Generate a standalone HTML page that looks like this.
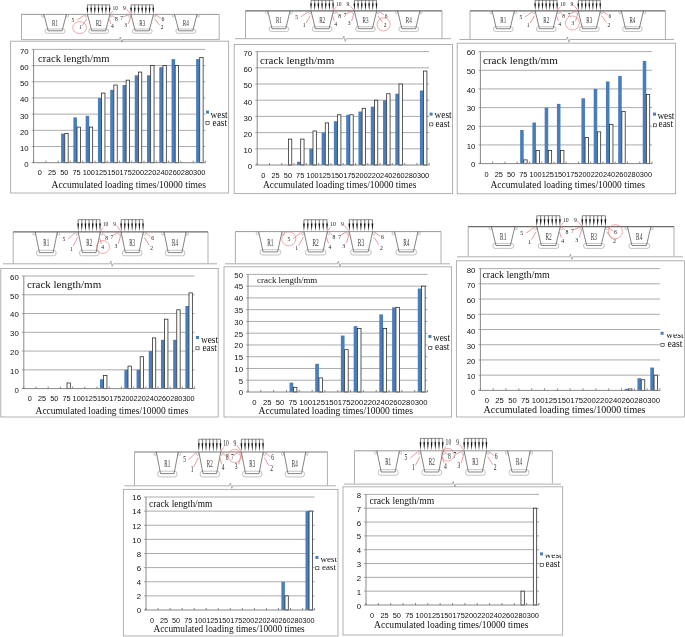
<!DOCTYPE html>
<html lang="en"><head><meta charset="utf-8"><title>Crack length vs accumulated loading times</title>
<style>html,body{margin:0;padding:0;background:#fff}svg{display:block}</style></head><body>
<svg width="685" height="637" viewBox="0 0 685 637">
<rect width="685" height="637" fill="#fff"/>
<defs>
<g id="dg" fill="none" stroke-linecap="butt">
<rect x="23.7" y="14.6" width="19.9" height="4.3" rx="2.1" stroke="#9a9a9a" stroke-width="0.6" vector-effect="non-scaling-stroke"/>
<circle cx="21.2" cy="1.5" r="1.2" stroke="#a0a0a0" stroke-width="0.6" vector-effect="non-scaling-stroke"/>
<circle cx="46.1" cy="1.5" r="1.2" stroke="#a0a0a0" stroke-width="0.6" vector-effect="non-scaling-stroke"/>
<path d="M22.4 0L26.7 16.4L40.6 16.4L44.9 0" stroke="#505050" stroke-width="0.7" fill="none" vector-effect="non-scaling-stroke"/>
<text x="33.65" y="11.3" font-family="'Liberation Serif',serif" font-size="8.4" fill="#333" stroke="none" text-anchor="middle" textLength="6" lengthAdjust="spacingAndGlyphs">R1</text>
<rect x="67.3" y="14.6" width="19.9" height="4.3" rx="2.1" stroke="#9a9a9a" stroke-width="0.6" vector-effect="non-scaling-stroke"/>
<circle cx="64.8" cy="1.5" r="1.2" stroke="#a0a0a0" stroke-width="0.6" vector-effect="non-scaling-stroke"/>
<circle cx="89.7" cy="1.5" r="1.2" stroke="#a0a0a0" stroke-width="0.6" vector-effect="non-scaling-stroke"/>
<path d="M66 0L70.3 16.4L84.2 16.4L88.5 0" stroke="#505050" stroke-width="0.7" fill="none" vector-effect="non-scaling-stroke"/>
<text x="77.25" y="11.3" font-family="'Liberation Serif',serif" font-size="8.4" fill="#333" stroke="none" text-anchor="middle" textLength="6" lengthAdjust="spacingAndGlyphs">R2</text>
<rect x="110.9" y="14.6" width="19.9" height="4.3" rx="2.1" stroke="#9a9a9a" stroke-width="0.6" vector-effect="non-scaling-stroke"/>
<circle cx="108.4" cy="1.5" r="1.2" stroke="#a0a0a0" stroke-width="0.6" vector-effect="non-scaling-stroke"/>
<circle cx="133.3" cy="1.5" r="1.2" stroke="#a0a0a0" stroke-width="0.6" vector-effect="non-scaling-stroke"/>
<path d="M109.6 0L113.9 16.4L127.8 16.4L132.1 0" stroke="#505050" stroke-width="0.7" fill="none" vector-effect="non-scaling-stroke"/>
<text x="120.85" y="11.3" font-family="'Liberation Serif',serif" font-size="8.4" fill="#333" stroke="none" text-anchor="middle" textLength="6" lengthAdjust="spacingAndGlyphs">R3</text>
<rect x="154.5" y="14.6" width="19.9" height="4.3" rx="2.1" stroke="#9a9a9a" stroke-width="0.6" vector-effect="non-scaling-stroke"/>
<circle cx="152" cy="1.5" r="1.2" stroke="#a0a0a0" stroke-width="0.6" vector-effect="non-scaling-stroke"/>
<circle cx="176.9" cy="1.5" r="1.2" stroke="#a0a0a0" stroke-width="0.6" vector-effect="non-scaling-stroke"/>
<path d="M153.2 0L157.5 16.4L171.4 16.4L175.7 0" stroke="#505050" stroke-width="0.7" fill="none" vector-effect="non-scaling-stroke"/>
<text x="164.45" y="11.3" font-family="'Liberation Serif',serif" font-size="8.4" fill="#333" stroke="none" text-anchor="middle" textLength="6" lengthAdjust="spacingAndGlyphs">R4</text>
<path d="M66 -9.6H88.2" stroke="#444" stroke-width="0.6" vector-effect="non-scaling-stroke"/>
<path d="M66 -9.6V-6" stroke="#222" stroke-width="0.6" vector-effect="non-scaling-stroke"/>
<path d="M65.15 -6.6H66.85L66 -0.2Z" fill="#111" stroke="none"/>
<path d="M69.7 -9.6V-6" stroke="#222" stroke-width="0.6" vector-effect="non-scaling-stroke"/>
<path d="M68.85 -6.6H70.55L69.7 -0.2Z" fill="#111" stroke="none"/>
<path d="M73.4 -9.6V-6" stroke="#222" stroke-width="0.6" vector-effect="non-scaling-stroke"/>
<path d="M72.55 -6.6H74.25L73.4 -0.2Z" fill="#111" stroke="none"/>
<path d="M77.1 -9.6V-6" stroke="#222" stroke-width="0.6" vector-effect="non-scaling-stroke"/>
<path d="M76.25 -6.6H77.95L77.1 -0.2Z" fill="#111" stroke="none"/>
<path d="M80.8 -9.6V-6" stroke="#222" stroke-width="0.6" vector-effect="non-scaling-stroke"/>
<path d="M79.95 -6.6H81.65L80.8 -0.2Z" fill="#111" stroke="none"/>
<path d="M84.5 -9.6V-6" stroke="#222" stroke-width="0.6" vector-effect="non-scaling-stroke"/>
<path d="M83.65 -6.6H85.35L84.5 -0.2Z" fill="#111" stroke="none"/>
<path d="M88.2 -9.6V-6" stroke="#222" stroke-width="0.6" vector-effect="non-scaling-stroke"/>
<path d="M87.35 -6.6H89.05L88.2 -0.2Z" fill="#111" stroke="none"/>
<path d="M109.7 -9.6H131.9" stroke="#444" stroke-width="0.6" vector-effect="non-scaling-stroke"/>
<path d="M109.7 -9.6V-6" stroke="#222" stroke-width="0.6" vector-effect="non-scaling-stroke"/>
<path d="M108.85 -6.6H110.55L109.7 -0.2Z" fill="#111" stroke="none"/>
<path d="M113.4 -9.6V-6" stroke="#222" stroke-width="0.6" vector-effect="non-scaling-stroke"/>
<path d="M112.55 -6.6H114.25L113.4 -0.2Z" fill="#111" stroke="none"/>
<path d="M117.1 -9.6V-6" stroke="#222" stroke-width="0.6" vector-effect="non-scaling-stroke"/>
<path d="M116.25 -6.6H117.95L117.1 -0.2Z" fill="#111" stroke="none"/>
<path d="M120.8 -9.6V-6" stroke="#222" stroke-width="0.6" vector-effect="non-scaling-stroke"/>
<path d="M119.95 -6.6H121.65L120.8 -0.2Z" fill="#111" stroke="none"/>
<path d="M124.5 -9.6V-6" stroke="#222" stroke-width="0.6" vector-effect="non-scaling-stroke"/>
<path d="M123.65 -6.6H125.35L124.5 -0.2Z" fill="#111" stroke="none"/>
<path d="M128.2 -9.6V-6" stroke="#222" stroke-width="0.6" vector-effect="non-scaling-stroke"/>
<path d="M127.35 -6.6H129.05L128.2 -0.2Z" fill="#111" stroke="none"/>
<path d="M131.9 -9.6V-6" stroke="#222" stroke-width="0.6" vector-effect="non-scaling-stroke"/>
<path d="M131.05 -6.6H132.75L131.9 -0.2Z" fill="#111" stroke="none"/>
<path d="M55.6 5.7L63.2 0.7" stroke="#e0585a" stroke-width="0.6" vector-effect="non-scaling-stroke"/>
<path d="M60.9 11.3L65.4 4.4" stroke="#e0585a" stroke-width="0.6" vector-effect="non-scaling-stroke"/>
<path d="M91.4 -3.4L88 0" stroke="#e0585a" stroke-width="0.6" vector-effect="non-scaling-stroke"/>
<path d="M105 -5L109.3 -0.6" stroke="#e0585a" stroke-width="0.6" vector-effect="non-scaling-stroke"/>
<path d="M91.4 1.3L93.4 3.2" stroke="#e0585a" stroke-width="0.6" vector-effect="non-scaling-stroke"/>
<path d="M101.8 2.6L106.8 0.4" stroke="#e0585a" stroke-width="0.6" vector-effect="non-scaling-stroke"/>
<path d="M87.6 4.4L89.6 9.5" stroke="#e0585a" stroke-width="0.6" vector-effect="non-scaling-stroke"/>
<path d="M106.8 9.5L109.3 2.6" stroke="#e0585a" stroke-width="0.6" vector-effect="non-scaling-stroke"/>
<path d="M134.5 0.6L139.5 3.8" stroke="#e0585a" stroke-width="0.6" vector-effect="non-scaling-stroke"/>
<path d="M133.2 4.4L138.2 10.7" stroke="#e0585a" stroke-width="0.6" vector-effect="non-scaling-stroke"/>
<text x="51.5" y="7.5" font-family="'Liberation Serif',serif" font-size="5.6" fill="#222" stroke="none" text-anchor="middle">5</text>
<text x="59" y="14.9" font-family="'Liberation Serif',serif" font-size="5.6" fill="#222" stroke="none" text-anchor="middle">1</text>
<text x="93.9" y="-4.3" font-family="'Liberation Serif',serif" font-size="5.6" fill="#222" stroke="none" text-anchor="middle">10</text>
<text x="103.1" y="-4.3" font-family="'Liberation Serif',serif" font-size="5.6" fill="#222" stroke="none" text-anchor="middle">9</text>
<text x="94.9" y="6.3" font-family="'Liberation Serif',serif" font-size="5.6" fill="#222" stroke="none" text-anchor="middle">8</text>
<text x="100.3" y="5.8" font-family="'Liberation Serif',serif" font-size="5.6" fill="#222" stroke="none" text-anchor="middle">7</text>
<text x="90.9" y="13.9" font-family="'Liberation Serif',serif" font-size="5.6" fill="#222" stroke="none" text-anchor="middle">4</text>
<text x="104.3" y="13" font-family="'Liberation Serif',serif" font-size="5.6" fill="#222" stroke="none" text-anchor="middle">3</text>
<text x="141.6" y="6.3" font-family="'Liberation Serif',serif" font-size="5.6" fill="#222" stroke="none" text-anchor="middle">6</text>
<text x="140.7" y="14.5" font-family="'Liberation Serif',serif" font-size="5.6" fill="#222" stroke="none" text-anchor="middle">2</text>
</g>
</defs>
<g id="p1">
<rect x="10.6" y="41.2" width="218" height="151.8" fill="#fff" stroke="#a8a8a8" stroke-width="0.9"/>
<path d="M21.5 39.6V14.4M219.2 14.4V39.6" fill="none" stroke="#8c8c8c" stroke-width="0.7"/>
<path d="M21.5 14.4H219.2" fill="none" stroke="#858585" stroke-width="0.85"/>
<path d="M21.5 39.6H119.4L120.4 37L121.8 42.2L122.8 39.6H219.2" fill="none" stroke="#8c8c8c" stroke-width="0.7"/>
<use href="#dg" transform="translate(21.5 14.4) scale(0.999 1.0)"/>
<ellipse cx="79.6" cy="27.6" rx="6.9" ry="6" fill="none" stroke="#e57373" stroke-width="0.6"/>
<path d="M31.6 146.51H205.4M31.6 130.33H205.4M31.6 114.14H205.4M31.6 97.96H205.4M31.6 81.77H205.4M31.6 65.59H205.4M31.6 49.4H205.4" fill="none" stroke="#969696" stroke-width="0.8"/>
<rect x="61.12" y="133.57" width="3.56" height="29.13" fill="#4a7ebb"/>
<rect x="64.78" y="133.57" width="3.36" height="29.13" fill="#fff" stroke="#222" stroke-width="0.75"/>
<rect x="73.39" y="117.38" width="3.56" height="45.32" fill="#4a7ebb"/>
<rect x="77.05" y="127.09" width="3.36" height="35.61" fill="#fff" stroke="#222" stroke-width="0.75"/>
<rect x="85.66" y="115.76" width="3.56" height="46.94" fill="#4a7ebb"/>
<rect x="89.32" y="127.09" width="3.36" height="35.61" fill="#fff" stroke="#222" stroke-width="0.75"/>
<rect x="97.93" y="97.96" width="3.56" height="64.74" fill="#4a7ebb"/>
<rect x="101.59" y="93.1" width="3.36" height="69.6" fill="#fff" stroke="#222" stroke-width="0.75"/>
<rect x="110.21" y="89.86" width="3.56" height="72.84" fill="#4a7ebb"/>
<rect x="113.86" y="85.01" width="3.36" height="77.69" fill="#fff" stroke="#222" stroke-width="0.75"/>
<rect x="122.48" y="85.01" width="3.56" height="77.69" fill="#4a7ebb"/>
<rect x="126.14" y="80.15" width="3.36" height="82.55" fill="#fff" stroke="#222" stroke-width="0.75"/>
<rect x="134.75" y="75.3" width="3.56" height="87.4" fill="#4a7ebb"/>
<rect x="138.41" y="72.06" width="3.36" height="90.64" fill="#fff" stroke="#222" stroke-width="0.75"/>
<rect x="147.02" y="75.3" width="3.56" height="87.4" fill="#4a7ebb"/>
<rect x="150.68" y="65.59" width="3.36" height="97.11" fill="#fff" stroke="#222" stroke-width="0.75"/>
<rect x="159.29" y="67.2" width="3.56" height="95.5" fill="#4a7ebb"/>
<rect x="162.95" y="65.59" width="3.36" height="97.11" fill="#fff" stroke="#222" stroke-width="0.75"/>
<rect x="171.56" y="59.11" width="3.56" height="103.59" fill="#4a7ebb"/>
<rect x="175.22" y="65.59" width="3.36" height="97.11" fill="#fff" stroke="#222" stroke-width="0.75"/>
<rect x="196.11" y="59.11" width="3.56" height="103.59" fill="#4a7ebb"/>
<rect x="199.76" y="57.49" width="3.36" height="105.21" fill="#fff" stroke="#222" stroke-width="0.75"/>
<path d="M33.6 49.4V162.7M31.6 162.7H205.4M33.6 162.7v-2M45.87 162.7v-2M58.14 162.7v-2M70.41 162.7v-2M82.69 162.7v-2M94.96 162.7v-2M107.23 162.7v-2M119.5 162.7v-2M131.77 162.7v-2M144.04 162.7v-2M156.31 162.7v-2M168.59 162.7v-2M180.86 162.7v-2M193.13 162.7v-2M205.4 162.7v-2" fill="none" stroke="#7a7a7a" stroke-width="0.9"/>
<g font-family="'Liberation Sans',sans-serif" font-size="7.8" fill="#111">
<text x="28.6" y="167.2" text-anchor="end">0</text>
<text x="28.6" y="151.01" text-anchor="end">10</text>
<text x="28.6" y="134.83" text-anchor="end">20</text>
<text x="28.6" y="118.64" text-anchor="end">30</text>
<text x="28.6" y="102.46" text-anchor="end">40</text>
<text x="28.6" y="86.27" text-anchor="end">50</text>
<text x="28.6" y="70.09" text-anchor="end">60</text>
<text x="28.6" y="53.9" text-anchor="end">70</text>
<text x="39.74" y="174.9" font-size="7.36" text-anchor="middle">0</text>
<text x="52.01" y="174.9" font-size="7.36" text-anchor="middle">25</text>
<text x="64.28" y="174.9" font-size="7.36" text-anchor="middle">50</text>
<text x="76.55" y="174.9" font-size="7.36" text-anchor="middle">75</text>
<text x="88.82" y="174.9" font-size="7.36" text-anchor="middle">100</text>
<text x="101.09" y="174.9" font-size="7.36" text-anchor="middle">125</text>
<text x="113.36" y="174.9" font-size="7.36" text-anchor="middle">150</text>
<text x="125.64" y="174.9" font-size="7.36" text-anchor="middle">175</text>
<text x="137.91" y="174.9" font-size="7.36" text-anchor="middle">200</text>
<text x="150.18" y="174.9" font-size="7.36" text-anchor="middle">220</text>
<text x="162.45" y="174.9" font-size="7.36" text-anchor="middle">240</text>
<text x="174.72" y="174.9" font-size="7.36" text-anchor="middle">260</text>
<text x="186.99" y="174.9" font-size="7.36" text-anchor="middle">280</text>
<text x="199.26" y="174.9" font-size="7.36" text-anchor="middle">300</text>
</g>
<text x="38" y="62.4" font-family="'Liberation Serif',serif" font-size="10.6" fill="#111">crack length/mm</text>
<text x="51.6" y="187.6" font-family="'Liberation Serif',serif" font-size="9.54" fill="#111">Accumulated loading times/10000 times</text>
<rect x="206" y="110.6" width="3" height="3" fill="#4a7ebb"/>
<text x="210.6" y="117.6" font-family="'Liberation Serif',serif" font-size="9.3" fill="#111">west</text>
<rect x="205.9" y="121.3" width="3.2" height="3" fill="#fff" stroke="#1a1a1a" stroke-width="0.6"/>
<text x="212.6" y="126.2" font-family="'Liberation Serif',serif" font-size="9.3" fill="#111">east</text>
</g>
<g id="p2">
<rect x="234.2" y="44.5" width="218.3" height="149.1" fill="#fff" stroke="#a8a8a8" stroke-width="0.9"/>
<path d="M245.5 38.5V10.8M442 10.8V38.5" fill="none" stroke="#8c8c8c" stroke-width="0.7"/>
<path d="M245.5 10.8H442" fill="none" stroke="#6a6a6a" stroke-width="1.25"/>
<path d="M235 38.7H342.8L343.8 36.1L345.2 41.3L346.2 38.7H451" fill="none" stroke="#8c8c8c" stroke-width="0.7"/>
<use href="#dg" transform="translate(245.5 10.8) scale(0.9929 1.0915)"/>
<ellipse cx="383.6" cy="24.4" rx="6.6" ry="6.6" fill="none" stroke="#e57373" stroke-width="0.6"/>
<path d="M255.2 148.8H429.2M255.2 132.6H429.2M255.2 116.4H429.2M255.2 100.2H429.2M255.2 84H429.2M255.2 67.8H429.2M255.2 51.6H429.2" fill="none" stroke="#969696" stroke-width="0.8"/>
<rect x="288.41" y="139.08" width="3.36" height="25.92" fill="#fff" stroke="#222" stroke-width="0.75"/>
<rect x="297.04" y="161.76" width="3.56" height="3.24" fill="#4a7ebb"/>
<rect x="300.7" y="139.08" width="3.36" height="25.92" fill="#fff" stroke="#222" stroke-width="0.75"/>
<rect x="309.32" y="148.8" width="3.56" height="16.2" fill="#4a7ebb"/>
<rect x="312.99" y="130.98" width="3.36" height="34.02" fill="#fff" stroke="#222" stroke-width="0.75"/>
<rect x="321.61" y="132.6" width="3.56" height="32.4" fill="#4a7ebb"/>
<rect x="325.27" y="122.88" width="3.36" height="42.12" fill="#fff" stroke="#222" stroke-width="0.75"/>
<rect x="333.89" y="121.26" width="3.56" height="43.74" fill="#4a7ebb"/>
<rect x="337.56" y="114.78" width="3.36" height="50.22" fill="#fff" stroke="#222" stroke-width="0.75"/>
<rect x="346.18" y="114.78" width="3.56" height="50.22" fill="#4a7ebb"/>
<rect x="349.84" y="114.78" width="3.36" height="50.22" fill="#fff" stroke="#222" stroke-width="0.75"/>
<rect x="358.47" y="111.54" width="3.56" height="53.46" fill="#4a7ebb"/>
<rect x="362.13" y="108.3" width="3.36" height="56.7" fill="#fff" stroke="#222" stroke-width="0.75"/>
<rect x="370.75" y="106.68" width="3.56" height="58.32" fill="#4a7ebb"/>
<rect x="374.41" y="100.2" width="3.36" height="64.8" fill="#fff" stroke="#222" stroke-width="0.75"/>
<rect x="383.04" y="100.2" width="3.56" height="64.8" fill="#4a7ebb"/>
<rect x="386.7" y="93.72" width="3.36" height="71.28" fill="#fff" stroke="#222" stroke-width="0.75"/>
<rect x="395.32" y="93.72" width="3.56" height="71.28" fill="#4a7ebb"/>
<rect x="398.99" y="84" width="3.36" height="81" fill="#fff" stroke="#222" stroke-width="0.75"/>
<rect x="419.89" y="90.48" width="3.56" height="74.52" fill="#4a7ebb"/>
<rect x="423.56" y="71.04" width="3.36" height="93.96" fill="#fff" stroke="#222" stroke-width="0.75"/>
<path d="M257.2 51.6V165M255.2 165H429.2M257.2 165v-2M269.49 165v-2M281.77 165v-2M294.06 165v-2M306.34 165v-2M318.63 165v-2M330.91 165v-2M343.2 165v-2M355.49 165v-2M367.77 165v-2M380.06 165v-2M392.34 165v-2M404.63 165v-2M416.91 165v-2M429.2 165v-2" fill="none" stroke="#7a7a7a" stroke-width="0.9"/>
<g font-family="'Liberation Sans',sans-serif" font-size="7.8" fill="#111">
<text x="252.2" y="169.3" text-anchor="end">0</text>
<text x="252.2" y="153.1" text-anchor="end">10</text>
<text x="252.2" y="136.9" text-anchor="end">20</text>
<text x="252.2" y="120.7" text-anchor="end">30</text>
<text x="252.2" y="104.5" text-anchor="end">40</text>
<text x="252.2" y="88.3" text-anchor="end">50</text>
<text x="252.2" y="72.1" text-anchor="end">60</text>
<text x="252.2" y="55.9" text-anchor="end">70</text>
<text x="263.34" y="178.1" font-size="7.37" text-anchor="middle">0</text>
<text x="275.63" y="178.1" font-size="7.37" text-anchor="middle">25</text>
<text x="287.91" y="178.1" font-size="7.37" text-anchor="middle">50</text>
<text x="300.2" y="178.1" font-size="7.37" text-anchor="middle">75</text>
<text x="312.49" y="178.1" font-size="7.37" text-anchor="middle">100</text>
<text x="324.77" y="178.1" font-size="7.37" text-anchor="middle">125</text>
<text x="337.06" y="178.1" font-size="7.37" text-anchor="middle">150</text>
<text x="349.34" y="178.1" font-size="7.37" text-anchor="middle">175</text>
<text x="361.63" y="178.1" font-size="7.37" text-anchor="middle">200</text>
<text x="373.91" y="178.1" font-size="7.37" text-anchor="middle">220</text>
<text x="386.2" y="178.1" font-size="7.37" text-anchor="middle">240</text>
<text x="398.49" y="178.1" font-size="7.37" text-anchor="middle">260</text>
<text x="410.77" y="178.1" font-size="7.37" text-anchor="middle">280</text>
<text x="423.06" y="178.1" font-size="7.37" text-anchor="middle">300</text>
</g>
<text x="260" y="63.6" font-family="'Liberation Serif',serif" font-size="11.0" fill="#111">crack length/mm</text>
<text x="263" y="188" font-family="'Liberation Serif',serif" font-size="9.47" fill="#111">Accumulated loading times/10000 times</text>
<rect x="429.6" y="112.6" width="3" height="3" fill="#4a7ebb"/>
<text x="434.6" y="118.4" font-family="'Liberation Serif',serif" font-size="9.3" fill="#111">west</text>
<rect x="429.7" y="122.9" width="3.2" height="3" fill="#fff" stroke="#1a1a1a" stroke-width="0.6"/>
<text x="435.4" y="126.6" font-family="'Liberation Serif',serif" font-size="9.3" fill="#111">east</text>
</g>
<g id="p3">
<rect x="457.2" y="43.2" width="218.4" height="150.6" fill="#fff" stroke="#a8a8a8" stroke-width="0.9"/>
<path d="M470 39.2V10.8M665.4 10.8V39.2" fill="none" stroke="#8c8c8c" stroke-width="0.7"/>
<path d="M470 10.8H665.4" fill="none" stroke="#6a6a6a" stroke-width="1.25"/>
<path d="M459.4 39.5H566.4L567.4 36.9L568.8 42.1L569.8 39.5H674" fill="none" stroke="#8c8c8c" stroke-width="0.7"/>
<use href="#dg" transform="translate(470 10.8) scale(0.9874 1.0915)"/>
<ellipse cx="572.4" cy="23" rx="7" ry="7" fill="none" stroke="#e57373" stroke-width="0.6"/>
<path d="M478.4 144.93H652M478.4 126.27H652M478.4 107.6H652M478.4 88.93H652M478.4 70.27H652M478.4 51.6H652" fill="none" stroke="#969696" stroke-width="0.8"/>
<rect x="520.15" y="130" width="3.55" height="33.6" fill="#4a7ebb"/>
<rect x="523.8" y="159.87" width="3.35" height="3.73" fill="#fff" stroke="#222" stroke-width="0.75"/>
<rect x="532.4" y="122.53" width="3.55" height="41.07" fill="#4a7ebb"/>
<rect x="536.06" y="150.53" width="3.35" height="13.07" fill="#fff" stroke="#222" stroke-width="0.75"/>
<rect x="544.66" y="107.6" width="3.55" height="56" fill="#4a7ebb"/>
<rect x="548.31" y="150.53" width="3.35" height="13.07" fill="#fff" stroke="#222" stroke-width="0.75"/>
<rect x="556.92" y="103.87" width="3.55" height="59.73" fill="#4a7ebb"/>
<rect x="560.57" y="150.53" width="3.35" height="13.07" fill="#fff" stroke="#222" stroke-width="0.75"/>
<rect x="581.43" y="98.27" width="3.55" height="65.33" fill="#4a7ebb"/>
<rect x="585.09" y="137.47" width="3.35" height="26.13" fill="#fff" stroke="#222" stroke-width="0.75"/>
<rect x="593.69" y="88.93" width="3.55" height="74.67" fill="#4a7ebb"/>
<rect x="597.34" y="131.87" width="3.35" height="31.73" fill="#fff" stroke="#222" stroke-width="0.75"/>
<rect x="605.95" y="81.47" width="3.55" height="82.13" fill="#4a7ebb"/>
<rect x="609.6" y="124.4" width="3.35" height="39.2" fill="#fff" stroke="#222" stroke-width="0.75"/>
<rect x="618.2" y="75.87" width="3.55" height="87.73" fill="#4a7ebb"/>
<rect x="621.86" y="111.33" width="3.35" height="52.27" fill="#fff" stroke="#222" stroke-width="0.75"/>
<rect x="642.72" y="60.93" width="3.55" height="102.67" fill="#4a7ebb"/>
<rect x="646.37" y="94.53" width="3.35" height="69.07" fill="#fff" stroke="#222" stroke-width="0.75"/>
<path d="M480.4 51.6V163.6M478.4 163.6H652M480.4 163.6v-2M492.66 163.6v-2M504.91 163.6v-2M517.17 163.6v-2M529.43 163.6v-2M541.69 163.6v-2M553.94 163.6v-2M566.2 163.6v-2M578.46 163.6v-2M590.71 163.6v-2M602.97 163.6v-2M615.23 163.6v-2M627.49 163.6v-2M639.74 163.6v-2M652 163.6v-2" fill="none" stroke="#7a7a7a" stroke-width="0.9"/>
<g font-family="'Liberation Sans',sans-serif" font-size="7.8" fill="#111">
<text x="475.4" y="167.3" text-anchor="end">0</text>
<text x="475.4" y="148.63" text-anchor="end">10</text>
<text x="475.4" y="129.97" text-anchor="end">20</text>
<text x="475.4" y="111.3" text-anchor="end">30</text>
<text x="475.4" y="92.63" text-anchor="end">40</text>
<text x="475.4" y="73.97" text-anchor="end">50</text>
<text x="475.4" y="55.3" text-anchor="end">60</text>
<text x="486.53" y="176.9" font-size="7.35" text-anchor="middle">0</text>
<text x="498.79" y="176.9" font-size="7.35" text-anchor="middle">25</text>
<text x="511.04" y="176.9" font-size="7.35" text-anchor="middle">50</text>
<text x="523.3" y="176.9" font-size="7.35" text-anchor="middle">75</text>
<text x="535.56" y="176.9" font-size="7.35" text-anchor="middle">100</text>
<text x="547.81" y="176.9" font-size="7.35" text-anchor="middle">125</text>
<text x="560.07" y="176.9" font-size="7.35" text-anchor="middle">150</text>
<text x="572.33" y="176.9" font-size="7.35" text-anchor="middle">175</text>
<text x="584.59" y="176.9" font-size="7.35" text-anchor="middle">200</text>
<text x="596.84" y="176.9" font-size="7.35" text-anchor="middle">220</text>
<text x="609.1" y="176.9" font-size="7.35" text-anchor="middle">240</text>
<text x="621.36" y="176.9" font-size="7.35" text-anchor="middle">260</text>
<text x="633.61" y="176.9" font-size="7.35" text-anchor="middle">280</text>
<text x="645.87" y="176.9" font-size="7.35" text-anchor="middle">300</text>
</g>
<text x="483" y="63.6" font-family="'Liberation Serif',serif" font-size="11.1" fill="#111">crack length/mm</text>
<text x="490.4" y="188" font-family="'Liberation Serif',serif" font-size="9.55" fill="#111">Accumulated loading times/10000 times</text>
<rect x="653" y="112.6" width="3" height="3" fill="#4a7ebb"/>
<text x="657.4" y="119.2" font-family="'Liberation Serif',serif" font-size="9.3" fill="#111">west</text>
<rect x="653.3" y="123.8" width="3.2" height="3" fill="#fff" stroke="#1a1a1a" stroke-width="0.6"/>
<text x="658.6" y="127" font-family="'Liberation Serif',serif" font-size="9.3" fill="#111">east</text>
</g>
<g id="p4">
<rect x="0.8" y="268.5" width="217.4" height="148.5" fill="#fff" stroke="#a8a8a8" stroke-width="0.9"/>
<path d="M13.2 263.4V231.8M208 231.8V263.4" fill="none" stroke="#8c8c8c" stroke-width="0.7"/>
<path d="M13.2 231.8H208" fill="none" stroke="#6a6a6a" stroke-width="1.25"/>
<path d="M3 263.8H109.8L110.8 261.2L112.2 266.4L113.2 263.8H217" fill="none" stroke="#8c8c8c" stroke-width="0.7"/>
<use href="#dg" transform="translate(13.2 231.8) scale(0.9843 1.2683)"/>
<ellipse cx="103" cy="247" rx="6.5" ry="6.5" fill="none" stroke="#e57373" stroke-width="0.6"/>
<path d="M21.8 369.83H194.6M21.8 351.07H194.6M21.8 332.3H194.6M21.8 313.53H194.6M21.8 294.77H194.6M21.8 276H194.6" fill="none" stroke="#969696" stroke-width="0.8"/>
<rect x="67" y="382.97" width="3.34" height="5.63" fill="#fff" stroke="#222" stroke-width="0.75"/>
<rect x="99.96" y="379.22" width="3.54" height="9.38" fill="#4a7ebb"/>
<rect x="103.6" y="375.46" width="3.34" height="13.14" fill="#fff" stroke="#222" stroke-width="0.75"/>
<rect x="124.36" y="369.83" width="3.54" height="18.77" fill="#4a7ebb"/>
<rect x="128" y="366.08" width="3.34" height="22.52" fill="#fff" stroke="#222" stroke-width="0.75"/>
<rect x="136.56" y="369.83" width="3.54" height="18.77" fill="#4a7ebb"/>
<rect x="140.2" y="356.7" width="3.34" height="31.9" fill="#fff" stroke="#222" stroke-width="0.75"/>
<rect x="148.76" y="351.07" width="3.54" height="37.53" fill="#4a7ebb"/>
<rect x="152.4" y="337.93" width="3.34" height="50.67" fill="#fff" stroke="#222" stroke-width="0.75"/>
<rect x="160.96" y="339.81" width="3.54" height="48.79" fill="#4a7ebb"/>
<rect x="164.6" y="319.16" width="3.34" height="69.44" fill="#fff" stroke="#222" stroke-width="0.75"/>
<rect x="173.16" y="339.81" width="3.54" height="48.79" fill="#4a7ebb"/>
<rect x="176.8" y="309.78" width="3.34" height="78.82" fill="#fff" stroke="#222" stroke-width="0.75"/>
<rect x="185.36" y="306.03" width="3.54" height="82.57" fill="#4a7ebb"/>
<rect x="189" y="292.89" width="3.34" height="95.71" fill="#fff" stroke="#222" stroke-width="0.75"/>
<path d="M23.8 276V388.6M21.8 388.6H194.6M23.8 388.6v-2M36 388.6v-2M48.2 388.6v-2M60.4 388.6v-2M72.6 388.6v-2M84.8 388.6v-2M97 388.6v-2M109.2 388.6v-2M121.4 388.6v-2M133.6 388.6v-2M145.8 388.6v-2M158 388.6v-2M170.2 388.6v-2M182.4 388.6v-2M194.6 388.6v-2" fill="none" stroke="#7a7a7a" stroke-width="0.9"/>
<g font-family="'Liberation Sans',sans-serif" font-size="7.8" fill="#111">
<text x="18.8" y="392.5" text-anchor="end">0</text>
<text x="18.8" y="373.73" text-anchor="end">10</text>
<text x="18.8" y="354.97" text-anchor="end">20</text>
<text x="18.8" y="336.2" text-anchor="end">30</text>
<text x="18.8" y="317.43" text-anchor="end">40</text>
<text x="18.8" y="298.67" text-anchor="end">50</text>
<text x="18.8" y="279.9" text-anchor="end">60</text>
<text x="29.9" y="400.9" font-size="7.31" text-anchor="middle">0</text>
<text x="42.1" y="400.9" font-size="7.31" text-anchor="middle">25</text>
<text x="54.3" y="400.9" font-size="7.31" text-anchor="middle">50</text>
<text x="66.5" y="400.9" font-size="7.31" text-anchor="middle">75</text>
<text x="78.7" y="400.9" font-size="7.31" text-anchor="middle">100</text>
<text x="90.9" y="400.9" font-size="7.31" text-anchor="middle">125</text>
<text x="103.1" y="400.9" font-size="7.31" text-anchor="middle">150</text>
<text x="115.3" y="400.9" font-size="7.31" text-anchor="middle">175</text>
<text x="127.5" y="400.9" font-size="7.31" text-anchor="middle">200</text>
<text x="139.7" y="400.9" font-size="7.31" text-anchor="middle">220</text>
<text x="151.9" y="400.9" font-size="7.31" text-anchor="middle">240</text>
<text x="164.1" y="400.9" font-size="7.31" text-anchor="middle">260</text>
<text x="176.3" y="400.9" font-size="7.31" text-anchor="middle">280</text>
<text x="188.5" y="400.9" font-size="7.31" text-anchor="middle">300</text>
</g>
<text x="27" y="288" font-family="'Liberation Serif',serif" font-size="11.0" fill="#111">crack length/mm</text>
<text x="35.6" y="414" font-family="'Liberation Serif',serif" font-size="9.45" fill="#111">Accumulated loading times/10000 times</text>
<rect x="196" y="336" width="3" height="3" fill="#4a7ebb"/>
<text x="201" y="343" font-family="'Liberation Serif',serif" font-size="9.3" fill="#111">west</text>
<rect x="195.9" y="346.8" width="3.2" height="3" fill="#fff" stroke="#1a1a1a" stroke-width="0.6"/>
<text x="202.4" y="350.6" font-family="'Liberation Serif',serif" font-size="9.3" fill="#111">east</text>
</g>
<g id="p5">
<rect x="224" y="266.8" width="227.6" height="150.2" fill="#fff" stroke="#a8a8a8" stroke-width="0.9"/>
<path d="M235.4 263.2V231.6M441 231.6V263.2" fill="none" stroke="#8c8c8c" stroke-width="0.7"/>
<path d="M235.4 231.6H441" fill="none" stroke="#858585" stroke-width="0.85"/>
<path d="M225 263.8H337.4L338.4 261.2L339.8 266.4L340.8 263.8H450" fill="none" stroke="#8c8c8c" stroke-width="0.7"/>
<use href="#dg" transform="translate(235.4 231.6) scale(1.0389 1.2378)"/>
<ellipse cx="288.8" cy="238.8" rx="7" ry="7" fill="none" stroke="#e57373" stroke-width="0.6"/>
<path d="M246 380.24H427.5M246 368.48H427.5M246 356.72H427.5M246 344.96H427.5M246 333.2H427.5M246 321.44H427.5M246 309.68H427.5M246 297.92H427.5M246 286.16H427.5M246 274.4H427.5" fill="none" stroke="#969696" stroke-width="0.8"/>
<rect x="289.56" y="382.59" width="3.72" height="9.41" fill="#4a7ebb"/>
<rect x="293.38" y="387.3" width="3.52" height="4.7" fill="#fff" stroke="#222" stroke-width="0.75"/>
<rect x="315.2" y="363.78" width="3.72" height="28.22" fill="#4a7ebb"/>
<rect x="319.02" y="377.89" width="3.52" height="14.11" fill="#fff" stroke="#222" stroke-width="0.75"/>
<rect x="340.84" y="335.55" width="3.72" height="56.45" fill="#4a7ebb"/>
<rect x="344.66" y="349.66" width="3.52" height="42.34" fill="#fff" stroke="#222" stroke-width="0.75"/>
<rect x="353.66" y="326.14" width="3.72" height="65.86" fill="#4a7ebb"/>
<rect x="357.48" y="328.5" width="3.52" height="63.5" fill="#fff" stroke="#222" stroke-width="0.75"/>
<rect x="379.31" y="314.38" width="3.72" height="77.62" fill="#4a7ebb"/>
<rect x="383.12" y="328.5" width="3.52" height="63.5" fill="#fff" stroke="#222" stroke-width="0.75"/>
<rect x="392.13" y="307.33" width="3.72" height="84.67" fill="#4a7ebb"/>
<rect x="395.95" y="307.33" width="3.52" height="84.67" fill="#fff" stroke="#222" stroke-width="0.75"/>
<rect x="417.77" y="288.51" width="3.72" height="103.49" fill="#4a7ebb"/>
<rect x="421.59" y="286.16" width="3.52" height="105.84" fill="#fff" stroke="#222" stroke-width="0.75"/>
<path d="M248 274.4V392M246 392H427.5M248 392v-2M260.82 392v-2M273.64 392v-2M286.46 392v-2M299.29 392v-2M312.11 392v-2M324.93 392v-2M337.75 392v-2M350.57 392v-2M363.39 392v-2M376.21 392v-2M389.04 392v-2M401.86 392v-2M414.68 392v-2M427.5 392v-2" fill="none" stroke="#7a7a7a" stroke-width="0.9"/>
<g font-family="'Liberation Sans',sans-serif" font-size="7.8" fill="#111">
<text x="243" y="395.3" text-anchor="end">0</text>
<text x="243" y="383.54" text-anchor="end">5</text>
<text x="243" y="371.78" text-anchor="end">10</text>
<text x="243" y="360.02" text-anchor="end">15</text>
<text x="243" y="348.26" text-anchor="end">20</text>
<text x="243" y="336.5" text-anchor="end">25</text>
<text x="243" y="324.74" text-anchor="end">30</text>
<text x="243" y="312.98" text-anchor="end">35</text>
<text x="243" y="301.22" text-anchor="end">40</text>
<text x="243" y="289.46" text-anchor="end">45</text>
<text x="243" y="277.7" text-anchor="end">50</text>
<text x="254.41" y="404.9" font-size="7.69" text-anchor="middle">0</text>
<text x="267.23" y="404.9" font-size="7.69" text-anchor="middle">25</text>
<text x="280.05" y="404.9" font-size="7.69" text-anchor="middle">50</text>
<text x="292.88" y="404.9" font-size="7.69" text-anchor="middle">75</text>
<text x="305.7" y="404.9" font-size="7.69" text-anchor="middle">100</text>
<text x="318.52" y="404.9" font-size="7.69" text-anchor="middle">125</text>
<text x="331.34" y="404.9" font-size="7.69" text-anchor="middle">150</text>
<text x="344.16" y="404.9" font-size="7.69" text-anchor="middle">175</text>
<text x="356.98" y="404.9" font-size="7.69" text-anchor="middle">200</text>
<text x="369.8" y="404.9" font-size="7.69" text-anchor="middle">220</text>
<text x="382.62" y="404.9" font-size="7.69" text-anchor="middle">240</text>
<text x="395.45" y="404.9" font-size="7.69" text-anchor="middle">260</text>
<text x="408.27" y="404.9" font-size="7.69" text-anchor="middle">280</text>
<text x="421.09" y="404.9" font-size="7.69" text-anchor="middle">300</text>
</g>
<text x="257" y="283" font-family="'Liberation Serif',serif" font-size="8.95" fill="#111">crack length/mm</text>
<text x="258.6" y="413.6" font-family="'Liberation Serif',serif" font-size="9.54" fill="#111">Accumulated loading times/10000 times</text>
<rect x="428.4" y="335" width="3" height="3" fill="#4a7ebb"/>
<text x="433" y="341.4" font-family="'Liberation Serif',serif" font-size="9.3" fill="#111">west</text>
<rect x="428.7" y="346.3" width="3.2" height="3" fill="#fff" stroke="#1a1a1a" stroke-width="0.6"/>
<text x="435" y="349.6" font-family="'Liberation Serif',serif" font-size="9.3" fill="#111">east</text>
</g>
<g id="p6">
<rect x="456.4" y="260.8" width="228" height="156.2" fill="#fff" stroke="#a8a8a8" stroke-width="0.9"/>
<path d="M468.2 256.2V226.7M674 226.7V256.2" fill="none" stroke="#8c8c8c" stroke-width="0.7"/>
<path d="M468.2 226.7H674" fill="none" stroke="#6a6a6a" stroke-width="1.25"/>
<path d="M457 256.8H569.4L570.4 254.2L571.8 259.4L572.8 256.8H683" fill="none" stroke="#8c8c8c" stroke-width="0.7"/>
<use href="#dg" transform="translate(468.2 226.7) scale(1.0399 1.1463)"/>
<ellipse cx="615.4" cy="231.6" rx="7" ry="7" fill="none" stroke="#e57373" stroke-width="0.6"/>
<path d="M478.4 375.17H660M478.4 359.95H660M478.4 344.73H660M478.4 329.5H660M478.4 314.27H660M478.4 299.05H660M478.4 283.83H660M478.4 268.6H660" fill="none" stroke="#969696" stroke-width="0.8"/>
<rect x="624.61" y="388.88" width="3.72" height="1.52" fill="#4a7ebb"/>
<rect x="628.43" y="388.88" width="3.52" height="1.52" fill="#fff" stroke="#222" stroke-width="0.75"/>
<rect x="637.44" y="378.22" width="3.72" height="12.18" fill="#4a7ebb"/>
<rect x="641.26" y="379.74" width="3.52" height="10.66" fill="#fff" stroke="#222" stroke-width="0.75"/>
<rect x="650.27" y="367.56" width="3.72" height="22.84" fill="#4a7ebb"/>
<rect x="654.09" y="375.17" width="3.52" height="15.22" fill="#fff" stroke="#222" stroke-width="0.75"/>
<path d="M480.4 268.6V390.4M478.4 390.4H660M480.4 390.4v-2M493.23 390.4v-2M506.06 390.4v-2M518.89 390.4v-2M531.71 390.4v-2M544.54 390.4v-2M557.37 390.4v-2M570.2 390.4v-2M583.03 390.4v-2M595.86 390.4v-2M608.69 390.4v-2M621.51 390.4v-2M634.34 390.4v-2M647.17 390.4v-2M660 390.4v-2" fill="none" stroke="#7a7a7a" stroke-width="0.9"/>
<g font-family="'Liberation Sans',sans-serif" font-size="7.8" fill="#111">
<text x="475.4" y="394.7" text-anchor="end">0</text>
<text x="475.4" y="379.47" text-anchor="end">10</text>
<text x="475.4" y="364.25" text-anchor="end">20</text>
<text x="475.4" y="349.03" text-anchor="end">30</text>
<text x="475.4" y="333.8" text-anchor="end">40</text>
<text x="475.4" y="318.57" text-anchor="end">50</text>
<text x="475.4" y="303.35" text-anchor="end">60</text>
<text x="475.4" y="288.13" text-anchor="end">70</text>
<text x="475.4" y="272.9" text-anchor="end">80</text>
<text x="486.81" y="402.9" font-size="7.69" text-anchor="middle">0</text>
<text x="499.64" y="402.9" font-size="7.69" text-anchor="middle">25</text>
<text x="512.47" y="402.9" font-size="7.69" text-anchor="middle">50</text>
<text x="525.3" y="402.9" font-size="7.69" text-anchor="middle">75</text>
<text x="538.13" y="402.9" font-size="7.69" text-anchor="middle">100</text>
<text x="550.96" y="402.9" font-size="7.69" text-anchor="middle">125</text>
<text x="563.79" y="402.9" font-size="7.69" text-anchor="middle">150</text>
<text x="576.61" y="402.9" font-size="7.69" text-anchor="middle">175</text>
<text x="589.44" y="402.9" font-size="7.69" text-anchor="middle">200</text>
<text x="602.27" y="402.9" font-size="7.69" text-anchor="middle">220</text>
<text x="615.1" y="402.9" font-size="7.69" text-anchor="middle">240</text>
<text x="627.93" y="402.9" font-size="7.69" text-anchor="middle">260</text>
<text x="640.76" y="402.9" font-size="7.69" text-anchor="middle">280</text>
<text x="653.59" y="402.9" font-size="7.69" text-anchor="middle">300</text>
</g>
<text x="482.4" y="278.4" font-family="'Liberation Serif',serif" font-size="10.0" fill="#111">crack length/mm</text>
<text x="483.6" y="413" font-family="'Liberation Serif',serif" font-size="10.0" fill="#111">Accumulated loading times/10000 times</text>
<rect x="660.6" y="331.8" width="3" height="3" fill="#4a7ebb"/>
<clipPath id="c6"><rect x="665" y="334.2" width="30" height="10"/></clipPath>
<text x="666" y="337.8" clip-path="url(#c6)" font-family="'Liberation Serif',serif" font-size="9.6" fill="#111">west</text>
<rect x="660.9" y="343.3" width="3.2" height="3" fill="#fff" stroke="#1a1a1a" stroke-width="0.6"/>
<text x="667.4" y="347" font-family="'Liberation Serif',serif" font-size="9.6" fill="#111">east</text>
</g>
<g id="p7">
<rect x="123.4" y="489.4" width="214.6" height="146.6" fill="#fff" stroke="#a8a8a8" stroke-width="0.9"/>
<path d="M134.5 485.2V451.9M327.4 451.9V485.2" fill="none" stroke="#8c8c8c" stroke-width="0.7"/>
<path d="M134.5 451.9H327.4" fill="none" stroke="#787878" stroke-width="1.05"/>
<path d="M124.4 485.8H229.4L230.4 483.2L231.8 488.4L232.8 485.8H336" fill="none" stroke="#8c8c8c" stroke-width="0.7"/>
<use href="#dg" transform="translate(134.5 451.9) scale(0.9747 1.3232)"/>
<ellipse cx="234.8" cy="456" rx="6.6" ry="6.6" fill="none" stroke="#e57373" stroke-width="0.6"/>
<path d="M144 595.88H314.6M144 581.75H314.6M144 567.62H314.6M144 553.5H314.6M144 539.38H314.6M144 525.25H314.6M144 511.12H314.6M144 497H314.6" fill="none" stroke="#969696" stroke-width="0.8"/>
<rect x="281.4" y="581.75" width="3.49" height="28.25" fill="#4a7ebb"/>
<rect x="284.99" y="595.88" width="3.29" height="14.12" fill="#fff" stroke="#222" stroke-width="0.75"/>
<rect x="305.49" y="511.12" width="3.49" height="98.88" fill="#4a7ebb"/>
<rect x="309.08" y="511.12" width="3.29" height="98.88" fill="#fff" stroke="#222" stroke-width="0.75"/>
<path d="M146 497V610M144 610H314.6M146 610v-2M158.04 610v-2M170.09 610v-2M182.13 610v-2M194.17 610v-2M206.21 610v-2M218.26 610v-2M230.3 610v-2M242.34 610v-2M254.39 610v-2M266.43 610v-2M278.47 610v-2M290.51 610v-2M302.56 610v-2M314.6 610v-2" fill="none" stroke="#7a7a7a" stroke-width="0.9"/>
<g font-family="'Liberation Sans',sans-serif" font-size="7.8" fill="#111">
<text x="141" y="613.3" text-anchor="end">0</text>
<text x="141" y="599.17" text-anchor="end">2</text>
<text x="141" y="585.05" text-anchor="end">4</text>
<text x="141" y="570.92" text-anchor="end">6</text>
<text x="141" y="556.8" text-anchor="end">8</text>
<text x="141" y="542.67" text-anchor="end">10</text>
<text x="141" y="528.55" text-anchor="end">12</text>
<text x="141" y="514.42" text-anchor="end">14</text>
<text x="141" y="500.3" text-anchor="end">16</text>
<text x="152.02" y="622.9" font-size="7.22" text-anchor="middle">0</text>
<text x="164.06" y="622.9" font-size="7.22" text-anchor="middle">25</text>
<text x="176.11" y="622.9" font-size="7.22" text-anchor="middle">50</text>
<text x="188.15" y="622.9" font-size="7.22" text-anchor="middle">75</text>
<text x="200.19" y="622.9" font-size="7.22" text-anchor="middle">100</text>
<text x="212.24" y="622.9" font-size="7.22" text-anchor="middle">125</text>
<text x="224.28" y="622.9" font-size="7.22" text-anchor="middle">150</text>
<text x="236.32" y="622.9" font-size="7.22" text-anchor="middle">175</text>
<text x="248.36" y="622.9" font-size="7.22" text-anchor="middle">200</text>
<text x="260.41" y="622.9" font-size="7.22" text-anchor="middle">220</text>
<text x="272.45" y="622.9" font-size="7.22" text-anchor="middle">240</text>
<text x="284.49" y="622.9" font-size="7.22" text-anchor="middle">260</text>
<text x="296.54" y="622.9" font-size="7.22" text-anchor="middle">280</text>
<text x="308.58" y="622.9" font-size="7.22" text-anchor="middle">300</text>
</g>
<text x="149" y="506.6" font-family="'Liberation Serif',serif" font-size="9.4" fill="#111">crack length/mm</text>
<text x="153.4" y="632.4" font-family="'Liberation Serif',serif" font-size="9.36" fill="#111">Accumulated loading times/10000 times</text>
<rect x="315.4" y="556" width="3" height="3" fill="#4a7ebb"/>
<clipPath id="c7"><rect x="319.4" y="557.9" width="30" height="10"/></clipPath>
<text x="320.4" y="561.7" clip-path="url(#c7)" font-family="'Liberation Serif',serif" font-size="9.0" fill="#111">west</text>
<rect x="315.7" y="566.7" width="3.2" height="3" fill="#fff" stroke="#1a1a1a" stroke-width="0.6"/>
<text x="322" y="570.2" font-family="'Liberation Serif',serif" font-size="9.0" fill="#111">east</text>
</g>
<g id="p8">
<rect x="343" y="486.8" width="219.6" height="148.2" fill="#fff" stroke="#a8a8a8" stroke-width="0.9"/>
<path d="M354.5 483.4V450.8M552.4 450.8V483.4" fill="none" stroke="#8c8c8c" stroke-width="0.7"/>
<path d="M354.5 450.8H552.4" fill="none" stroke="#858585" stroke-width="0.85"/>
<path d="M344 484.1H452.4L453.4 481.5L454.8 486.7L455.8 484.1H561" fill="none" stroke="#8c8c8c" stroke-width="0.7"/>
<use href="#dg" transform="translate(354.5 450.8) scale(1.0 1.2927)"/>
<ellipse cx="447.8" cy="454.8" rx="6.4" ry="6.4" fill="none" stroke="#e57373" stroke-width="0.6"/>
<path d="M364 591.17H539M364 577.35H539M364 563.52H539M364 549.7H539M364 535.88H539M364 522.05H539M364 508.22H539M364 494.4H539" fill="none" stroke="#969696" stroke-width="0.8"/>
<rect x="520.96" y="591.17" width="3.38" height="13.83" fill="#fff" stroke="#222" stroke-width="0.75"/>
<rect x="533.32" y="508.22" width="3.38" height="96.78" fill="#fff" stroke="#222" stroke-width="0.75"/>
<path d="M366 494.4V605M364 605H539M366 605v-2M378.36 605v-2M390.71 605v-2M403.07 605v-2M415.43 605v-2M427.79 605v-2M440.14 605v-2M452.5 605v-2M464.86 605v-2M477.21 605v-2M489.57 605v-2M501.93 605v-2M514.29 605v-2M526.64 605v-2M539 605v-2" fill="none" stroke="#7a7a7a" stroke-width="0.9"/>
<g font-family="'Liberation Sans',sans-serif" font-size="7.8" fill="#111">
<text x="361" y="608.5" text-anchor="end">0</text>
<text x="361" y="594.67" text-anchor="end">1</text>
<text x="361" y="580.85" text-anchor="end">2</text>
<text x="361" y="567.02" text-anchor="end">3</text>
<text x="361" y="553.2" text-anchor="end">4</text>
<text x="361" y="539.38" text-anchor="end">5</text>
<text x="361" y="525.55" text-anchor="end">6</text>
<text x="361" y="511.72" text-anchor="end">7</text>
<text x="361" y="497.9" text-anchor="end">8</text>
<text x="372.18" y="617.9" font-size="7.41" text-anchor="middle">0</text>
<text x="384.54" y="617.9" font-size="7.41" text-anchor="middle">25</text>
<text x="396.89" y="617.9" font-size="7.41" text-anchor="middle">50</text>
<text x="409.25" y="617.9" font-size="7.41" text-anchor="middle">75</text>
<text x="421.61" y="617.9" font-size="7.41" text-anchor="middle">100</text>
<text x="433.96" y="617.9" font-size="7.41" text-anchor="middle">125</text>
<text x="446.32" y="617.9" font-size="7.41" text-anchor="middle">150</text>
<text x="458.68" y="617.9" font-size="7.41" text-anchor="middle">175</text>
<text x="471.04" y="617.9" font-size="7.41" text-anchor="middle">200</text>
<text x="483.39" y="617.9" font-size="7.41" text-anchor="middle">220</text>
<text x="495.75" y="617.9" font-size="7.41" text-anchor="middle">240</text>
<text x="508.11" y="617.9" font-size="7.41" text-anchor="middle">260</text>
<text x="520.46" y="617.9" font-size="7.41" text-anchor="middle">280</text>
<text x="532.82" y="617.9" font-size="7.41" text-anchor="middle">300</text>
</g>
<text x="369.4" y="503.6" font-family="'Liberation Serif',serif" font-size="9.6" fill="#111">crack length/mm</text>
<text x="374" y="628.4" font-family="'Liberation Serif',serif" font-size="9.55" fill="#111">Accumulated loading times/10000 times</text>
<rect x="540" y="552.4" width="3" height="3" fill="#4a7ebb"/>
<clipPath id="c8"><rect x="543.6" y="554.8" width="30" height="10"/></clipPath>
<text x="544.6" y="557.8" clip-path="url(#c8)" font-family="'Liberation Serif',serif" font-size="9.3" fill="#111">west</text>
<rect x="540.1" y="563.3" width="3.2" height="3" fill="#fff" stroke="#1a1a1a" stroke-width="0.6"/>
<text x="545.6" y="566.6" font-family="'Liberation Serif',serif" font-size="9.3" fill="#111">east</text>
</g>
</svg></body></html>
